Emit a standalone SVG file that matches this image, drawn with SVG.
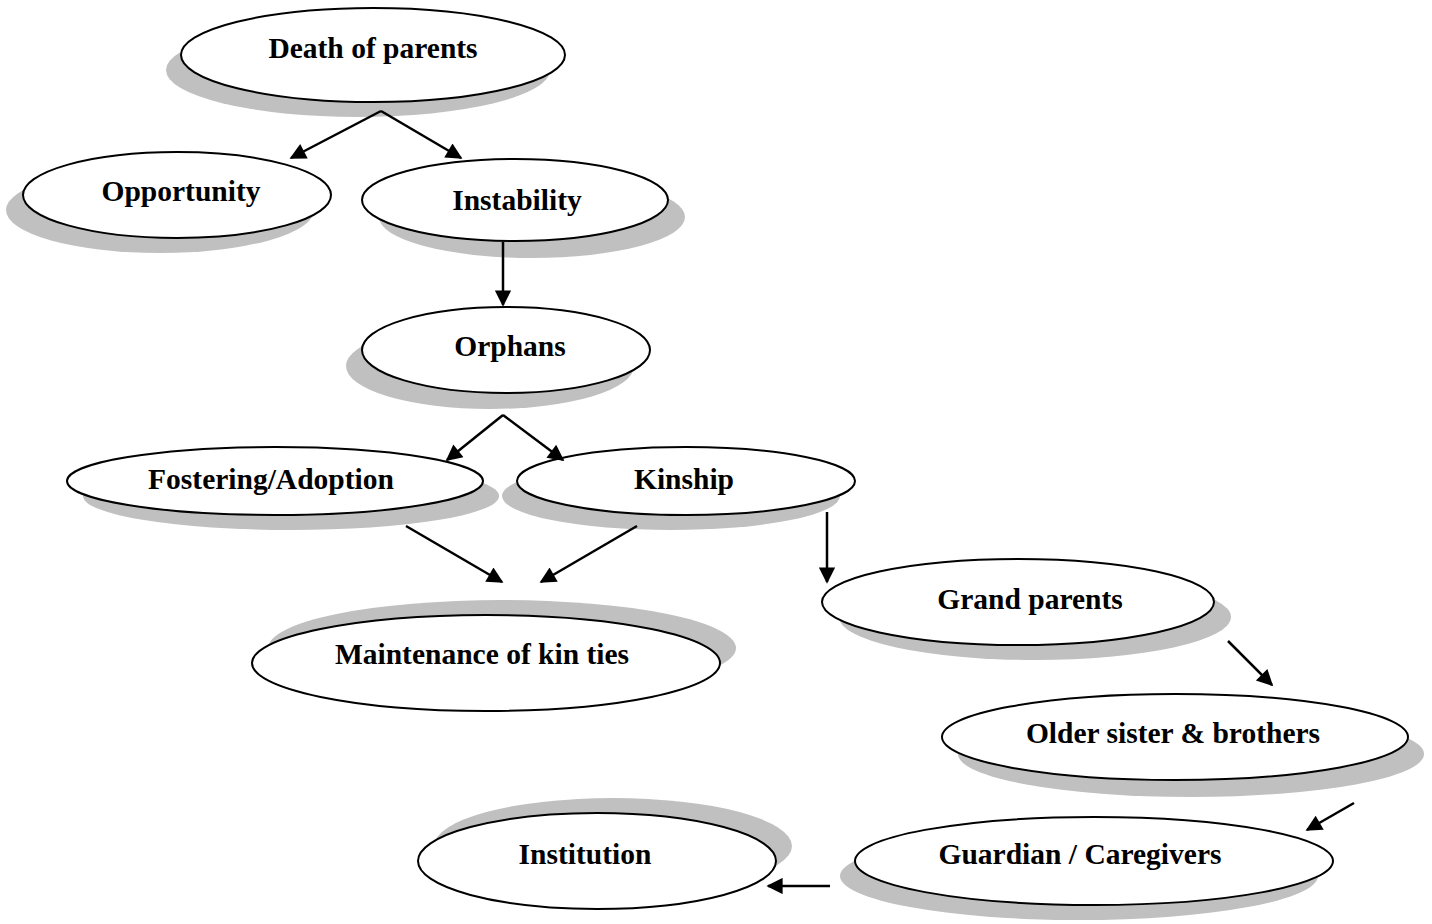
<svg xmlns="http://www.w3.org/2000/svg" width="1432" height="924" viewBox="0 0 1432 924">
<style>
.sh{fill:#c0c0c0;stroke:none}
.nd{fill:#fff;stroke:#000;stroke-width:2}
.lb{font-family:"Liberation Serif","Times New Roman",serif;font-weight:bold;font-size:29.5px;fill:#000;text-anchor:middle}
.cn{stroke:#000;stroke-width:2.5;fill:none;marker-end:url(#ah)}
</style>
<defs>
<marker id="ah" viewBox="0 0 10 10" refX="9" refY="5" markerWidth="7.5" markerHeight="6.5" markerUnits="strokeWidth" orient="auto">
<path d="M0,0 L10,5 L0,10 z" fill="#000"/>
</marker>
</defs>
<rect width="1432" height="924" fill="#fff"/>
<g id="death">
<ellipse class="sh" cx="358" cy="70" rx="192" ry="47"/>
<ellipse class="nd" cx="373" cy="55" rx="192" ry="47"/>
<text class="lb" x="373" y="58">Death of parents</text>
</g>
<g id="opportunity">
<ellipse class="sh" cx="160" cy="210" rx="154" ry="43"/>
<ellipse class="nd" cx="177" cy="195" rx="154" ry="43"/>
<text class="lb" x="181" y="201">Opportunity</text>
</g>
<g id="instability">
<ellipse class="sh" cx="532" cy="217" rx="153" ry="41"/>
<ellipse class="nd" cx="515" cy="200" rx="153" ry="41"/>
<text class="lb" x="517" y="210">Instability</text>
</g>
<g id="orphans">
<ellipse class="sh" cx="490" cy="366" rx="144" ry="43"/>
<ellipse class="nd" cx="506" cy="350" rx="144" ry="43"/>
<text class="lb" x="510" y="356">Orphans</text>
</g>
<g id="fostering">
<ellipse class="sh" cx="291" cy="496" rx="208" ry="34"/>
<ellipse class="nd" cx="275" cy="481" rx="208" ry="34"/>
<text class="lb" x="271" y="489">Fostering/Adoption</text>
</g>
<g id="kinship">
<ellipse class="sh" cx="671" cy="496" rx="169" ry="34"/>
<ellipse class="nd" cx="686" cy="481" rx="169" ry="34"/>
<text class="lb" x="684" y="489">Kinship</text>
</g>
<g id="maintenance">
<ellipse class="sh" cx="502" cy="648" rx="234" ry="48"/>
<ellipse class="nd" cx="486" cy="663" rx="234" ry="48"/>
<text class="lb" x="482" y="664">Maintenance of kin ties</text>
</g>
<g id="grandparents">
<ellipse class="sh" cx="1035" cy="617" rx="196" ry="43"/>
<ellipse class="nd" cx="1018" cy="602" rx="196" ry="43"/>
<text class="lb" x="1030" y="609">Grand parents</text>
</g>
<g id="older">
<ellipse class="sh" cx="1191" cy="754" rx="233" ry="43"/>
<ellipse class="nd" cx="1175" cy="737" rx="233" ry="43"/>
<text class="lb" x="1173" y="743">Older sister &amp; brothers</text>
</g>
<g id="guardian">
<ellipse class="sh" cx="1079" cy="876" rx="239" ry="44"/>
<ellipse class="nd" cx="1094" cy="861" rx="239" ry="44"/>
<text class="lb" x="1080" y="864">Guardian / Caregivers</text>
</g>
<g id="institution">
<ellipse class="sh" cx="613" cy="846" rx="179" ry="48"/>
<ellipse class="nd" cx="597" cy="861" rx="179" ry="48"/>
<text class="lb" x="585" y="864">Institution</text>
</g>
<g id="connectors">
<path class="cn" d="M381,111 L291,158"/>
<path class="cn" d="M381,111 L461,158"/>
<path class="cn" d="M503,242 L503,305"/>
<path class="cn" d="M503,415 L447,460"/>
<path class="cn" d="M503,415 L563,460"/>
<path class="cn" d="M406,526 L502,582"/>
<path class="cn" d="M637,526 L541,582"/>
<path class="cn" d="M827,512 L827,582"/>
<path class="cn" d="M1228,641 L1272,685"/>
<path class="cn" d="M1354,803 L1307,830"/>
<path class="cn" d="M830,886 L768,886"/>
</g>
</svg>
